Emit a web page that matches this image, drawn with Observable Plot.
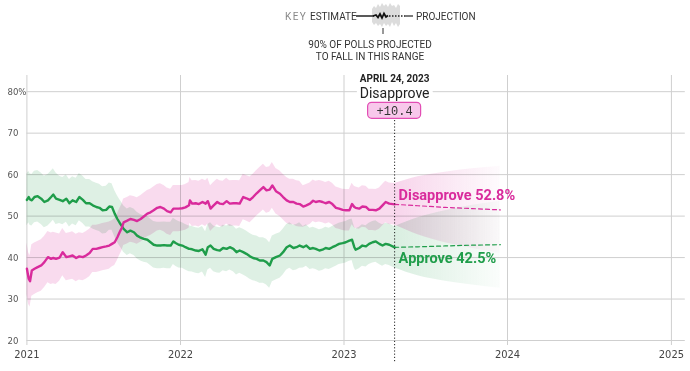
<!DOCTYPE html>
<html>
<head>
<meta charset="utf-8">
<script src="https://cdn.jsdelivr.net/npm/d3@7"></script>
<script src="https://cdn.jsdelivr.net/npm/@observablehq/plot@0.6"></script>
<style>
  body { margin: 0; background: #fff; }
  #wrap { position: relative; width: 690px; height: 371px; font-family: Roboto, "Liberation Sans", sans-serif; }
  #key { position: absolute; left: 0; top: 0; z-index: 2; }
  #chart svg { display: block; overflow: visible; }
</style>
</head>
<body>
<div id="wrap">
  <svg id="key" width="690" height="64" font-family="Roboto, 'Liberation Sans', sans-serif" font-size="10">
    <text x="285" y="20" fill="#888" letter-spacing="1.4">KEY</text>
    <text x="310" y="20" fill="#333">ESTIMATE</text>
    <path d="M372,9 L374,6 376,8 378,4 380,7 382,3 384,6 386,4 388,7 390,3 392,6 394,5 396,8 398,4 400,6 L400,24 398,27 396,23 394,26 392,22 390,27 388,24 386,26 384,23 382,27 380,24 378,26 376,23 374,25 372,22 Z" fill="#dcdcdc"/>
    <line x1="356" y1="16" x2="374" y2="16" stroke="#222" stroke-width="1.5"/>
    <path d="M373,16 L376,15 378,17.5 380,14 382,18 384,13.5 386,17 388,15.5" fill="none" stroke="#111" stroke-width="1.8"/>
    <line x1="389" y1="16" x2="405" y2="16" stroke="#222" stroke-width="1.5" stroke-dasharray="1.5,1.5"/>
    <line x1="405" y1="16" x2="413" y2="16" stroke="#222" stroke-width="1.2"/>
    <text x="416" y="20" fill="#333">PROJECTION</text>
    <line x1="383" y1="28" x2="383" y2="34" stroke="#333" stroke-width="1"/>
    <text x="370" y="48" fill="#333" text-anchor="middle">90% OF POLLS PROJECTED</text>
    <text x="370" y="60" fill="#333" text-anchor="middle">TO FALL IN THIS RANGE</text>
  </svg>
  <div id="chart"></div>
</div>
<script>
// Polling average, Jan 2021 – Apr 2023 (percent)
const dates = [
  "2021-01-23","2021-01-27","2021-01-30","2021-02-03","2021-02-09","2021-02-16","2021-02-24","2021-03-03",
  "2021-03-11","2021-03-18","2021-03-23","2021-03-29","2021-04-06","2021-04-13","2021-04-21","2021-04-28",
  "2021-05-05","2021-05-13","2021-05-20","2021-05-28","2021-06-04","2021-06-12","2021-06-19","2021-06-27",
  "2021-07-04","2021-07-11","2021-07-19","2021-07-26","2021-08-01","2021-08-07","2021-08-13","2021-08-18",
  "2021-08-23","2021-08-27","2021-09-04","2021-09-11","2021-09-19","2021-09-26","2021-10-04","2021-10-11",
  "2021-10-19","2021-10-26","2021-11-02","2021-11-10","2021-11-17","2021-11-25","2021-12-02","2021-12-10",
  "2021-12-16","2021-12-21","2021-12-28","2022-01-05","2022-01-12","2022-01-20","2022-01-22","2022-01-27",
  "2022-02-04","2022-02-11","2022-02-19","2022-02-26","2022-03-03","2022-03-09","2022-03-16","2022-03-24",
  "2022-03-30","2022-04-06","2022-04-14","2022-04-21","2022-04-29","2022-05-06","2022-05-13","2022-05-21",
  "2022-05-28","2022-06-05","2022-06-12","2022-06-20","2022-06-27","2022-07-05","2022-07-12","2022-07-19",
  "2022-07-25","2022-08-02","2022-08-11","2022-08-18","2022-08-26","2022-09-02","2022-09-10","2022-09-17",
  "2022-09-24","2022-10-02","2022-10-09","2022-10-17","2022-10-24","2022-10-30","2022-11-07","2022-11-14",
  "2022-11-21","2022-11-29","2022-12-06","2022-12-14","2022-12-21","2022-12-29","2023-01-05","2023-01-13",
  "2023-01-19","2023-01-24","2023-01-27","2023-02-04","2023-02-11","2023-02-19","2023-02-26","2023-03-06",
  "2023-03-13","2023-03-21","2023-03-28","2023-04-04","2023-04-12","2023-04-24"
];
const approve = [
  53.9,54.6,54.0,53.8,54.6,54.8,54.2,53.4, 53.8,54.6,55.2,54.2,53.9,53.6,54.2,53.1,
  53.8,53.4,54.6,53.9,53.1,53.1,52.6,52.2, 52.0,51.4,51.5,52.3,52.2,50.6,49.3,48.4,
  47.6,46.9,46.1,46.5,46.1,45.3,44.8,44.5, 44.3,43.7,43.1,42.9,42.9,43.0,42.9,42.9,
  43.9,43.5,43.1,42.9,42.5,42.1,42.1,42.0, 41.7,41.6,42.0,40.7,42.5,42.9,42.1,41.8,
  41.7,42.3,42.1,42.5,42.1,41.3,41.7,41.3, 40.9,40.3,39.9,39.7,39.3,39.3,38.9,38.1,
  39.7,40.1,40.5,41.3,42.5,42.9,42.3,42.5, 42.9,42.5,42.9,42.1,42.3,42.1,41.7,41.9,
  42.3,42.1,42.5,42.9,43.3,43.5,43.7,44.1, 44.3,42.5,41.9,42.3,42.9,42.7,43.3,43.7,
  43.9,43.3,42.9,43.3,43.1,42.46
];
const disapprove = [
  37.3,34.9,34.3,36.9,37.3,37.7,38.1,38.9, 40.1,39.7,39.9,39.7,40.0,41.3,40.1,40.3,
  40.5,39.9,40.3,40.1,40.5,41.1,42.1,42.1, 42.3,42.5,42.7,42.9,43.3,43.7,44.9,46.1,
  47.2,48.5,48.9,49.3,49.1,48.8,49.3,49.9, 50.6,50.9,51.4,52.0,52.2,51.8,51.2,50.9,
  51.8,51.8,51.8,51.9,52.1,52.6,53.8,53.0, 53.1,52.9,53.4,53.0,53.6,51.8,52.6,53.4,
  53.0,52.9,53.6,53.0,53.1,53.1,53.0,54.6, 54.3,53.9,54.6,55.5,56.2,57.0,56.2,56.4,
  57.4,56.0,55.4,54.6,53.8,53.4,53.4,53.0, 52.9,52.3,52.6,53.0,53.7,53.4,53.6,53.4,
  53.1,53.4,52.9,52.0,51.8,51.5,51.4,51.4, 52.9,52.2,52.0,51.8,52.3,52.2,51.5,51.5,
  51.4,51.8,52.6,53.4,53.0,52.84
];
// Half-width of the 90% poll range, by period (starting dates of later periods)
const rangeBreaks = ["2021-04-01", "2021-08-01", "2022-01-01", "2022-10-01"];
const rangeHalfWidth = [6.2, 5.7, 5.6, 5.5, 5.0];

// Projection through the end of 2023
const projDates = ["2023-04-24", "2023-06-15", "2023-08-15", "2023-10-15", "2023-12-16"];
const projApprove = [42.46, 42.6, 42.8, 43.0, 43.1];
const projDisapprove = [52.84, 52.5, 52.1, 51.8, 51.5];
const projHalfWidth = [5.0, 7.0, 8.5, 9.6, 10.5];

// Axes
const yTicks = [20, 30, 40, 50, 60, 70, 80];
const xTickDates = ["2021-01-23", "2022-01-01", "2023-01-01", "2024-01-01", "2025-01-01"];
const xTickLabels = ["2021", "2022", "2023", "2024", "2025"];

const PINK = "#d92b9c", GREEN = "#1f9d4a";
const condensed = "'DejaVu Sans Condensed', 'Liberation Sans Narrow', sans-serif";
const sans = "Roboto, 'Liberation Sans', sans-serif";

const parse = s => new Date(s + "T00:00:00Z");
const breaks = rangeBreaks.map(parse);
const rows = dates.map((d, i) => {
  const date = parse(d);
  return {date, a: approve[i], d: disapprove[i], s: rangeHalfWidth[d3.bisectRight(breaks, date)]};
});
const proj = projDates.map((d, i) => ({date: parse(d), a: projApprove[i], d: projDisapprove[i], s: projHalfWidth[i]}));
const last = rows[rows.length - 1];
const net = last.d - last.a;
const leader = net >= 0 ? "Disapprove" : "Approve";
const netText = "+" + Math.abs(net).toFixed(1);

const plot = Plot.plot({
  width: 690,
  height: 371,
  marginTop: 75,
  marginBottom: 26,
  marginLeft: 26.4,
  marginRight: 5.2,
  x: {type: "utc", domain: [parse("2021-01-23"), parse("2025-02-01")], axis: null},
  y: {domain: [18.8, 83.9], axis: null},
  style: {fontFamily: sans, background: "transparent", overflow: "visible"},
  marks: [
    // grid
    Plot.ruleY(yTicks, {stroke: "#cfcfcf", strokeWidth: 1}),
    Plot.ruleX(xTickDates.map(parse), {stroke: "#cfcfcf", strokeWidth: 1}),
    // 90% poll ranges
    Plot.areaY(rows, {x: "date", y1: r => r.a - r.s, y2: r => r.a + r.s, fill: GREEN, fillOpacity: 0.15, mixBlendMode: "multiply"}),
    Plot.areaY(rows, {x: "date", y1: r => r.d - r.s, y2: r => r.d + r.s, fill: PINK, fillOpacity: 0.17, mixBlendMode: "multiply"}),
    // projected ranges
    Plot.areaY(proj, {x: "date", y1: r => r.a - r.s, y2: r => r.a + r.s, curve: "monotone-x", fill: "url(#fadeGreen)", mixBlendMode: "multiply"}),
    Plot.areaY(proj, {x: "date", y1: r => r.d - r.s, y2: r => r.d + r.s, curve: "monotone-x", fill: "url(#fadePink)", mixBlendMode: "multiply"}),
    // projections
    Plot.line(proj, {x: "date", y: "a", stroke: GREEN, strokeWidth: 1.2, strokeDasharray: "4,3"}),
    Plot.line(proj, {x: "date", y: "d", stroke: PINK, strokeWidth: 1.2, strokeDasharray: "4,3"}),
    // estimates
    Plot.line(rows, {x: "date", y: "a", stroke: GREEN, strokeWidth: 2.4}),
    Plot.line(rows, {x: "date", y: "d", stroke: PINK, strokeWidth: 2.4}),
    // current date marker
    Plot.ruleX([last.date], {stroke: "#222", strokeWidth: 1, strokeDasharray: "1.2,2", insetTop: 45, insetBottom: -17}),
    // y tick labels
    Plot.text(yTicks, {y: d => d, text: d => d === 80 ? "80%" : String(d), frameAnchor: "left", dx: -19.4, textAnchor: "start",
      fontSize: 9.5, fill: "#555", fontFamily: condensed}),
    // x tick labels
    Plot.text(xTickDates, {x: parse, text: (d, i) => xTickLabels[i], frameAnchor: "bottom", dy: 9, lineAnchor: "middle",
      fontSize: 11, fill: "#444", fontFamily: condensed, letterSpacing: -0.5}),
    // header annotation
    Plot.text([last], {x: "date", text: r => d3.utcFormat("%B %-d, %Y")(r.date).toUpperCase(), frameAnchor: "top", dy: 3.5,
      lineAnchor: "middle", fontSize: 10, fontWeight: 700, fill: "#222"}),
    Plot.text([last], {x: "date", text: () => leader, frameAnchor: "top", dy: 18.5, lineAnchor: "middle",
      fontSize: 14, fill: "white", stroke: "white", strokeWidth: 8}),
    Plot.text([last], {x: "date", text: () => leader, frameAnchor: "top", dy: 18.5, lineAnchor: "middle",
      fontSize: 14, fill: "#222"}),
    Plot.text([last], {x: "date", text: () => netText, frameAnchor: "top", dy: 35.5, lineAnchor: "middle",
      fontSize: 12, fill: "#333", fontFamily: "'Liberation Mono', 'DejaVu Sans Mono', monospace"}),
    // end labels
    Plot.text([last], {x: "date", y: "d", text: r => `Disapprove ${r.d.toFixed(1)}%`, dx: 4, dy: -8.5, textAnchor: "start",
      lineAnchor: "middle", fontSize: 14.5, fontWeight: 700, fill: PINK}),
    Plot.text([last], {x: "date", y: "a", text: r => `Approve ${r.a.toFixed(1)}%`, dx: 4, dy: 10.5, textAnchor: "start",
      lineAnchor: "middle", fontSize: 14.5, fontWeight: 700, fill: GREEN})
  ]
});

const svg = d3.select(plot);
const defs = svg.insert("defs", ":first-child");
[["fadePink", PINK, 0.2], ["fadeGreen", GREEN, 0.17]].forEach(([id, c, o]) => {
  const g = defs.append("linearGradient").attr("id", id).attr("x1", 0).attr("x2", 1).attr("y1", 0).attr("y2", 0);
  g.append("stop").attr("offset", 0).attr("stop-color", c).attr("stop-opacity", o);
  g.append("stop").attr("offset", 1).attr("stop-color", c).attr("stop-opacity", 0.02);
});
// pill behind the net margin
const netGroup = svg.selectAll("text").filter(function() { return this.textContent === netText; }).node().parentNode;
const cx = plot.scale("x").apply(last.date);
d3.select(netGroup.parentNode).insert("rect", () => netGroup)
  .attr("x", cx - 26.5).attr("y", 102.3).attr("width", 53).attr("height", 16).attr("rx", 4)
  .attr("fill", "#f8c8eb").attr("stroke", "#e24db4").attr("stroke-width", 1.2);

document.getElementById("chart").appendChild(plot);
</script>
</body>
</html>
